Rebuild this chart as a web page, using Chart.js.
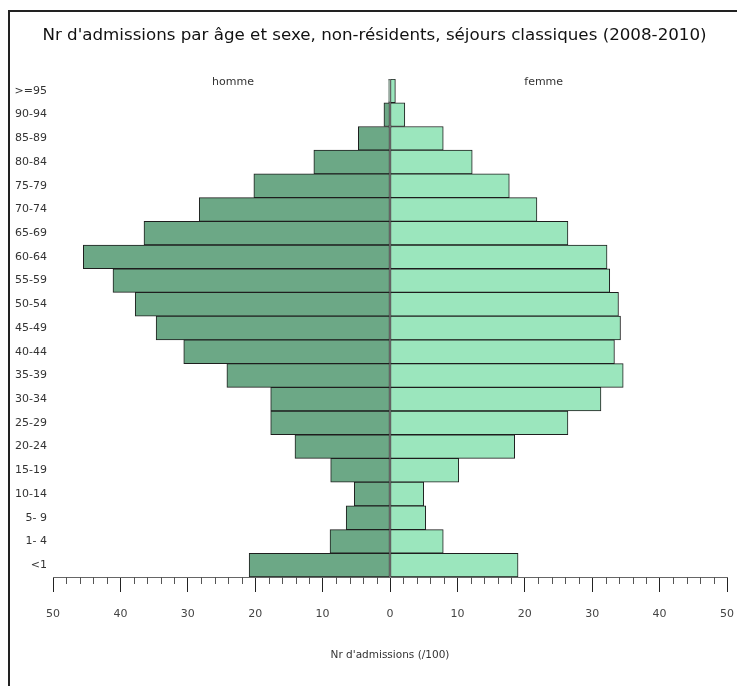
<!DOCTYPE html>
<html>
<head>
<meta charset="utf-8">
<script src="https://cdn.jsdelivr.net/npm/chart.js@4"></script>
<style>
  body { margin: 0; background: #fff; }
  #wrap { position: relative; width: 737px; height: 686px; }
  #frame { position: absolute; left: 8px; top: 10px; right: -4px; bottom: -4px;
           border-left: 2px solid #222; border-top: 2px solid #222; pointer-events: none; }
</style>
</head>
<body>
<div id="wrap">
  <canvas id="pyramid" width="737" height="686"></canvas>
  <div id="frame"></div>
</div>
<script>
const ageGroups = [">=95", "90-94", "85-89", "80-84", "75-79", "70-74", "65-69", "60-64", "55-59", "50-54",
  "45-49", "40-44", "35-39", "30-34", "25-29", "20-24", "15-19", "10-14", "5- 9", "1- 4", "<1"];

// values in hundreds of admissions
const maleValues = [0.2, 0.9, 4.7, 11.3, 20.2, 28.3, 36.5, 45.5, 41.1, 37.8,
  34.7, 30.6, 24.2, 17.7, 17.7, 14.1, 8.8, 5.3, 6.5, 8.9, 20.9];
const femaleValues = [0.8, 2.2, 7.9, 12.2, 17.7, 21.8, 26.4, 32.2, 32.6, 33.9,
  34.2, 33.3, 34.6, 31.3, 26.4, 18.5, 10.2, 5.0, 5.3, 7.9, 19.0];

const seriesNames = ["homme", "femme"];
const seriesNamePos = [-23.3, 22.8];
const xTickStep = 2;
const xMajorStep = 10;

const FONT = '"DejaVu Sans", sans-serif';

const pyramidExtras = {
  id: "pyramidExtras",
  afterDraw(chart) {
    const ctx = chart.ctx;
    const x = chart.scales.x;
    ctx.save();
    // minor ticks
    ctx.strokeStyle = "#555";
    ctx.lineWidth = 1;
    x.ticks.forEach(t => {
      if (t.value % xMajorStep === 0) return;
      const px = Math.round(x.getPixelForValue(t.value)) + 0.5;
      ctx.beginPath();
      ctx.moveTo(px, x.top);
      ctx.lineTo(px, x.top + 7);
      ctx.stroke();
    });
    // series names above each half
    ctx.fillStyle = "#333";
    ctx.font = "11px " + FONT;
    ctx.textAlign = "center";
    ctx.textBaseline = "middle";
    chart.data.datasets.forEach((ds, i) => {
      ctx.fillText(ds.label, x.getPixelForValue(seriesNamePos[i]), chart.chartArea.top + 3);
    });
    ctx.restore();
  }
};

new Chart(document.getElementById("pyramid"), {
  type: "bar",
  data: {
    labels: ageGroups,
    datasets: [{
      label: seriesNames[0],
      data: maleValues.map(v => -v),
      backgroundColor: "#6ca886",
      borderColor: "#1e1e1e",
      borderWidth: 1,
      borderSkipped: false,
      barPercentage: 1,
      categoryPercentage: 1
    }, {
      label: seriesNames[1],
      data: femaleValues,
      backgroundColor: "#9be6bd",
      borderColor: "#1e1e1e",
      borderWidth: 1,
      borderSkipped: false,
      barPercentage: 1,
      categoryPercentage: 1
    }]
  },
  options: {
    indexAxis: "y",
    responsive: false,
    animation: false,
    layout: { padding: { left: 12, right: 0, top: 0, bottom: 0 } },
    plugins: {
      legend: { display: false },
      tooltip: { enabled: false },
      title: {
        display: true,
        text: "Nr d'admissions par âge et sexe, non-résidents, séjours classiques (2008-2010)",
        color: "#111",
        font: { family: FONT, size: 16.7, weight: "normal" },
        padding: { top: 26, bottom: 33 }
      }
    },
    scales: {
      x: {
        stacked: true,
        min: -50,
        max: 50,
        afterFit: s => { s.height = 109; s.paddingLeft = 0; s.paddingRight = 10; },
        grid: {
          drawOnChartArea: false,
          tickLength: 15,
          tickColor: c => (c.tick && c.tick.value % xMajorStep === 0) ? "#222" : "rgba(0,0,0,0)"
        },
        border: { display: true, color: "#666" },
        ticks: {
          stepSize: xTickStep,
          autoSkip: false,
          maxRotation: 0,
          padding: 16,
          color: "#444",
          font: { family: FONT, size: 11 },
          callback: v => v % xMajorStep === 0 ? String(Math.abs(v)) : ""
        },
        title: {
          display: true,
          text: "Nr d'admissions (/100)",
          color: "#333",
          font: { family: FONT, size: 10.5 },
          padding: { top: 4, bottom: 24 }
        }
      },
      y: {
        stacked: true,
        afterFit: s => { s.width = 41; },
        grid: { display: true, drawOnChartArea: false, drawTicks: false },
        border: { display: false },
        ticks: {
          padding: 6,
          color: "#333",
          font: { family: FONT, size: 11 }
        }
      }
    }
  },
  plugins: [pyramidExtras]
});
</script>
</body>
</html>
